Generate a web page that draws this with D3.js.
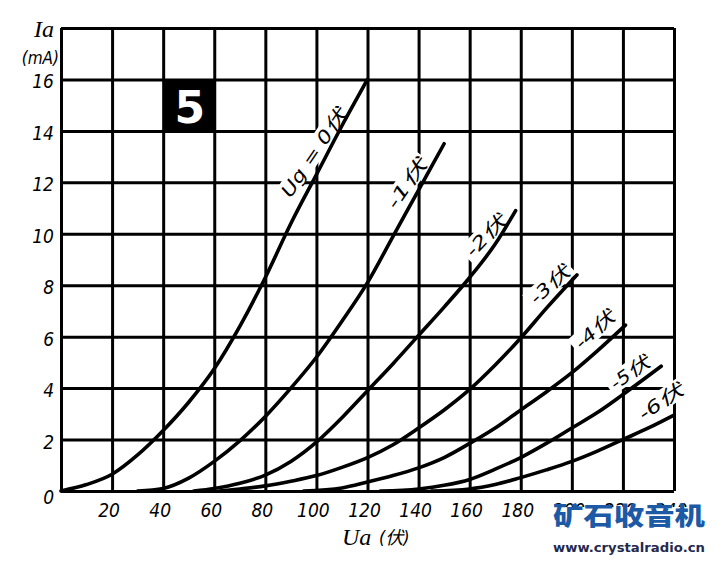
<!DOCTYPE html>
<html>
<head>
<meta charset="utf-8">
<script src="https://cdn.jsdelivr.net/npm/d3@7"></script>
<style>
  body { margin: 0; background: #fff; }
  svg { display: block; }
  .hand { font-family: "DejaVu Sans Condensed", "DejaVu Sans", "Noto Sans CJK SC", sans-serif; font-style: italic; font-stretch: condensed; }
  .serif { font-family: "Liberation Serif", "DejaVu Serif", "Noto Sans CJK SC", serif; font-style: italic; }
</style>
</head>
<body>
<svg id="chart" width="717" height="561"></svg>
<script>
// plate characteristics (Ua in V, Ia in mA)
var ua_g0 = [0, 10, 20, 30, 40, 50, 60, 70, 80, 90, 100, 110, 120];
var ia_g0 = [0, 0.25, 0.65, 1.4, 2.35, 3.45, 4.75, 6.4, 8.3, 10.4, 12.3, 14.2, 16];
var ua_g1 = [30, 40, 50, 60, 70, 80, 90, 100, 110, 120, 130, 140, 150];
var ia_g1 = [0, 0.1, 0.5, 1.15, 1.95, 2.9, 4.0, 5.2, 6.6, 8.1, 9.9, 11.7, 13.5];
var ua_g2 = [52, 60, 70, 80, 90, 100, 110, 120, 130, 140, 150, 160, 170, 178];
var ia_g2 = [0, 0.1, 0.3, 0.62, 1.15, 1.9, 2.85, 3.9, 4.95, 6.05, 7.15, 8.3, 9.6, 10.9];
var ua_g3 = [62, 70, 80, 90, 100, 110, 120, 130, 140, 150, 160, 170, 180, 190, 202];
var ia_g3 = [0, 0.08, 0.2, 0.38, 0.6, 0.92, 1.3, 1.8, 2.45, 3.15, 3.95, 4.9, 5.95, 7.1, 8.4];
var ua_g4 = [95, 110, 120, 130, 140, 150, 160, 170, 180, 190, 200, 210, 221];
var ia_g4 = [0, 0.12, 0.35, 0.6, 0.9, 1.3, 1.85, 2.45, 3.15, 3.85, 4.6, 5.45, 6.45];
var ua_g5 = [125, 140, 150, 160, 170, 180, 190, 200, 210, 220, 235];
var ia_g5 = [0, 0.08, 0.22, 0.45, 0.85, 1.3, 1.85, 2.45, 3.05, 3.75, 4.85];
var ua_g6 = [145, 160, 170, 180, 190, 200, 210, 220, 230, 240];
var ia_g6 = [0, 0.08, 0.25, 0.52, 0.82, 1.15, 1.55, 2.0, 2.45, 2.95];

var curveNames = ["Ug = 0伏", "-1伏", "-2伏", "-3伏", "-4伏", "-5伏", "-6伏"];
var xTickLabels = [20, 40, 60, 80, 100, 120, 140, 160, 180, 200, 220, 240];
var yTickLabels = [0, 2, 4, 6, 8, 10, 12, 14, 16];

var curves = [
  [ua_g0, ia_g0], [ua_g1, ia_g1], [ua_g2, ia_g2], [ua_g3, ia_g3],
  [ua_g4, ia_g4], [ua_g5, ia_g5], [ua_g6, ia_g6]
].map(function(p) { return p[0].map(function(v, i) { return [v, p[1][i]]; }); });

// label placement (centre x, centre y, angle, length) in pixels
var labelLayout = [
  [314, 153, -56, 102], [407, 184, -55, 56], [486, 236, -46, 50],
  [550, 285, -42, 47], [595, 330, -42, 47], [630, 373, -35, 44], [661, 402, -34, 50]
];

var svg = d3.select("#chart");
var x = d3.scaleLinear().domain([0, 240]).range([61, 674]);
var y = d3.scaleLinear().domain([0, 18]).range([491, 28]);

// grid
var grid = svg.append("g").attr("id", "grid");
grid.append("g")
    .attr("transform", "translate(0," + y(0) + ")")
    .call(d3.axisBottom(x).tickValues(d3.range(0, 241, 20)).tickSize(-(y(0) - y(18))).tickFormat(""));
grid.append("g")
    .attr("transform", "translate(" + x(0) + ",0)")
    .call(d3.axisLeft(y).tickValues(d3.range(0, 19, 2)).tickSize(-(x(240) - x(0))).tickFormat(""));
grid.selectAll(".domain").remove();
grid.selectAll("line").attr("stroke", "#000").attr("stroke-width", 3);

// labels go in groups: white patch first, curves over it, text last
var labels = svg.append("g").selectAll("g")
    .data(curveNames)
    .enter()
    .append("g")
    .attr("transform", function(d, i) {
        var l = labelLayout[i];
        return "translate(" + l[0] + "," + l[1] + ") rotate(" + l[2] + ")";
    });
labels.append("rect")
    .attr("x", function(d, i) { return -labelLayout[i][3] / 2 - 4; })
    .attr("y", -11)
    .attr("width", function(d, i) { return labelLayout[i][3] + 8; })
    .attr("height", 20)
    .attr("fill", "#fff");

var line = d3.line()
    .x(function(d) { return x(d[0]); })
    .y(function(d) { return y(d[1]); })
    .curve(d3.curveMonotoneX);

svg.append("g").attr("id", "curves")
    .selectAll("path")
    .data(curves)
    .enter()
    .append("path")
    .attr("d", line)
    .attr("fill", "none")
    .attr("stroke", "#000")
    .attr("stroke-width", 3.6)
    .attr("stroke-linecap", "round");

labels.append("text")
    .attr("class", "hand")
    .attr("text-anchor", "middle")
    .attr("y", 6)
    .attr("font-size", 18)
    .attr("textLength", function(d, i) { return labelLayout[i][3]; })
    .attr("lengthAdjust", "spacingAndGlyphs")
    .text(function(d) { return d; });

// tick labels
svg.append("g").selectAll("text")
    .data(yTickLabels)
    .enter()
    .append("text")
    .attr("class", "hand")
    .attr("x", 54)
    .attr("y", function(d) { return y(d) + (d === 0 ? 13 : 9); })
    .attr("text-anchor", "end")
    .attr("font-size", 19)
    .text(function(d) { return d; });

svg.append("g").selectAll("text")
    .data(xTickLabels)
    .enter()
    .append("text")
    .attr("class", "hand")
    .attr("x", function(d) { return x(d) - 3; })
    .attr("y", 517)
    .attr("text-anchor", "middle")
    .attr("font-size", 19)
    .text(function(d) { return d; });

// axis titles
svg.append("text").attr("class", "serif").attr("x", 54).attr("y", 37)
    .attr("text-anchor", "end").attr("font-size", 24).text("Ia");
svg.append("text").attr("class", "hand").attr("x", 59).attr("y", 64)
    .attr("text-anchor", "end").attr("font-size", 17).text("(mA)");
svg.append("text").attr("class", "serif").attr("x", 342).attr("y", 545)
    .attr("font-size", 24).text("Ua");
svg.append("text").attr("class", "hand").attr("x", 379).attr("y", 544)
    .attr("font-size", 18).text("(伏)");

// figure number
svg.append("rect").attr("x", x(40)).attr("y", y(16))
    .attr("width", x(60) - x(40)).attr("height", y(14) - y(16)).attr("fill", "#000");
svg.append("text")
    .attr("x", (x(40) + x(60)) / 2 + 1).attr("y", y(14) - 8)
    .attr("text-anchor", "middle")
    .attr("font-family", "DejaVu Sans")
    .attr("font-weight", "bold")
    .attr("font-size", 44)
    .attr("fill", "#fff")
    .text("5");

// watermark, laid over the last tick labels as in the scan
svg.append("rect").attr("x", 548).attr("y", 507).attr("width", 169).attr("height", 54).attr("fill", "#fff");
svg.append("text")
    .attr("x", 553).attr("y", 525)
    .attr("font-family", "Noto Sans CJK SC")
    .attr("font-weight", 900)
    .attr("font-size", 25)
    .attr("fill", "#1c5aa6")
    .attr("textLength", 152)
    .attr("lengthAdjust", "spacingAndGlyphs")
    .text("矿石收音机");
svg.append("text")
    .attr("x", 553).attr("y", 552)
    .attr("font-family", "DejaVu Sans")
    .attr("font-weight", "bold")
    .attr("font-size", 13)
    .attr("fill", "#1f2a4e")
    .attr("textLength", 152)
    .attr("lengthAdjust", "spacingAndGlyphs")
    .text("www.crystalradio.cn");
</script>
</body>
</html>
